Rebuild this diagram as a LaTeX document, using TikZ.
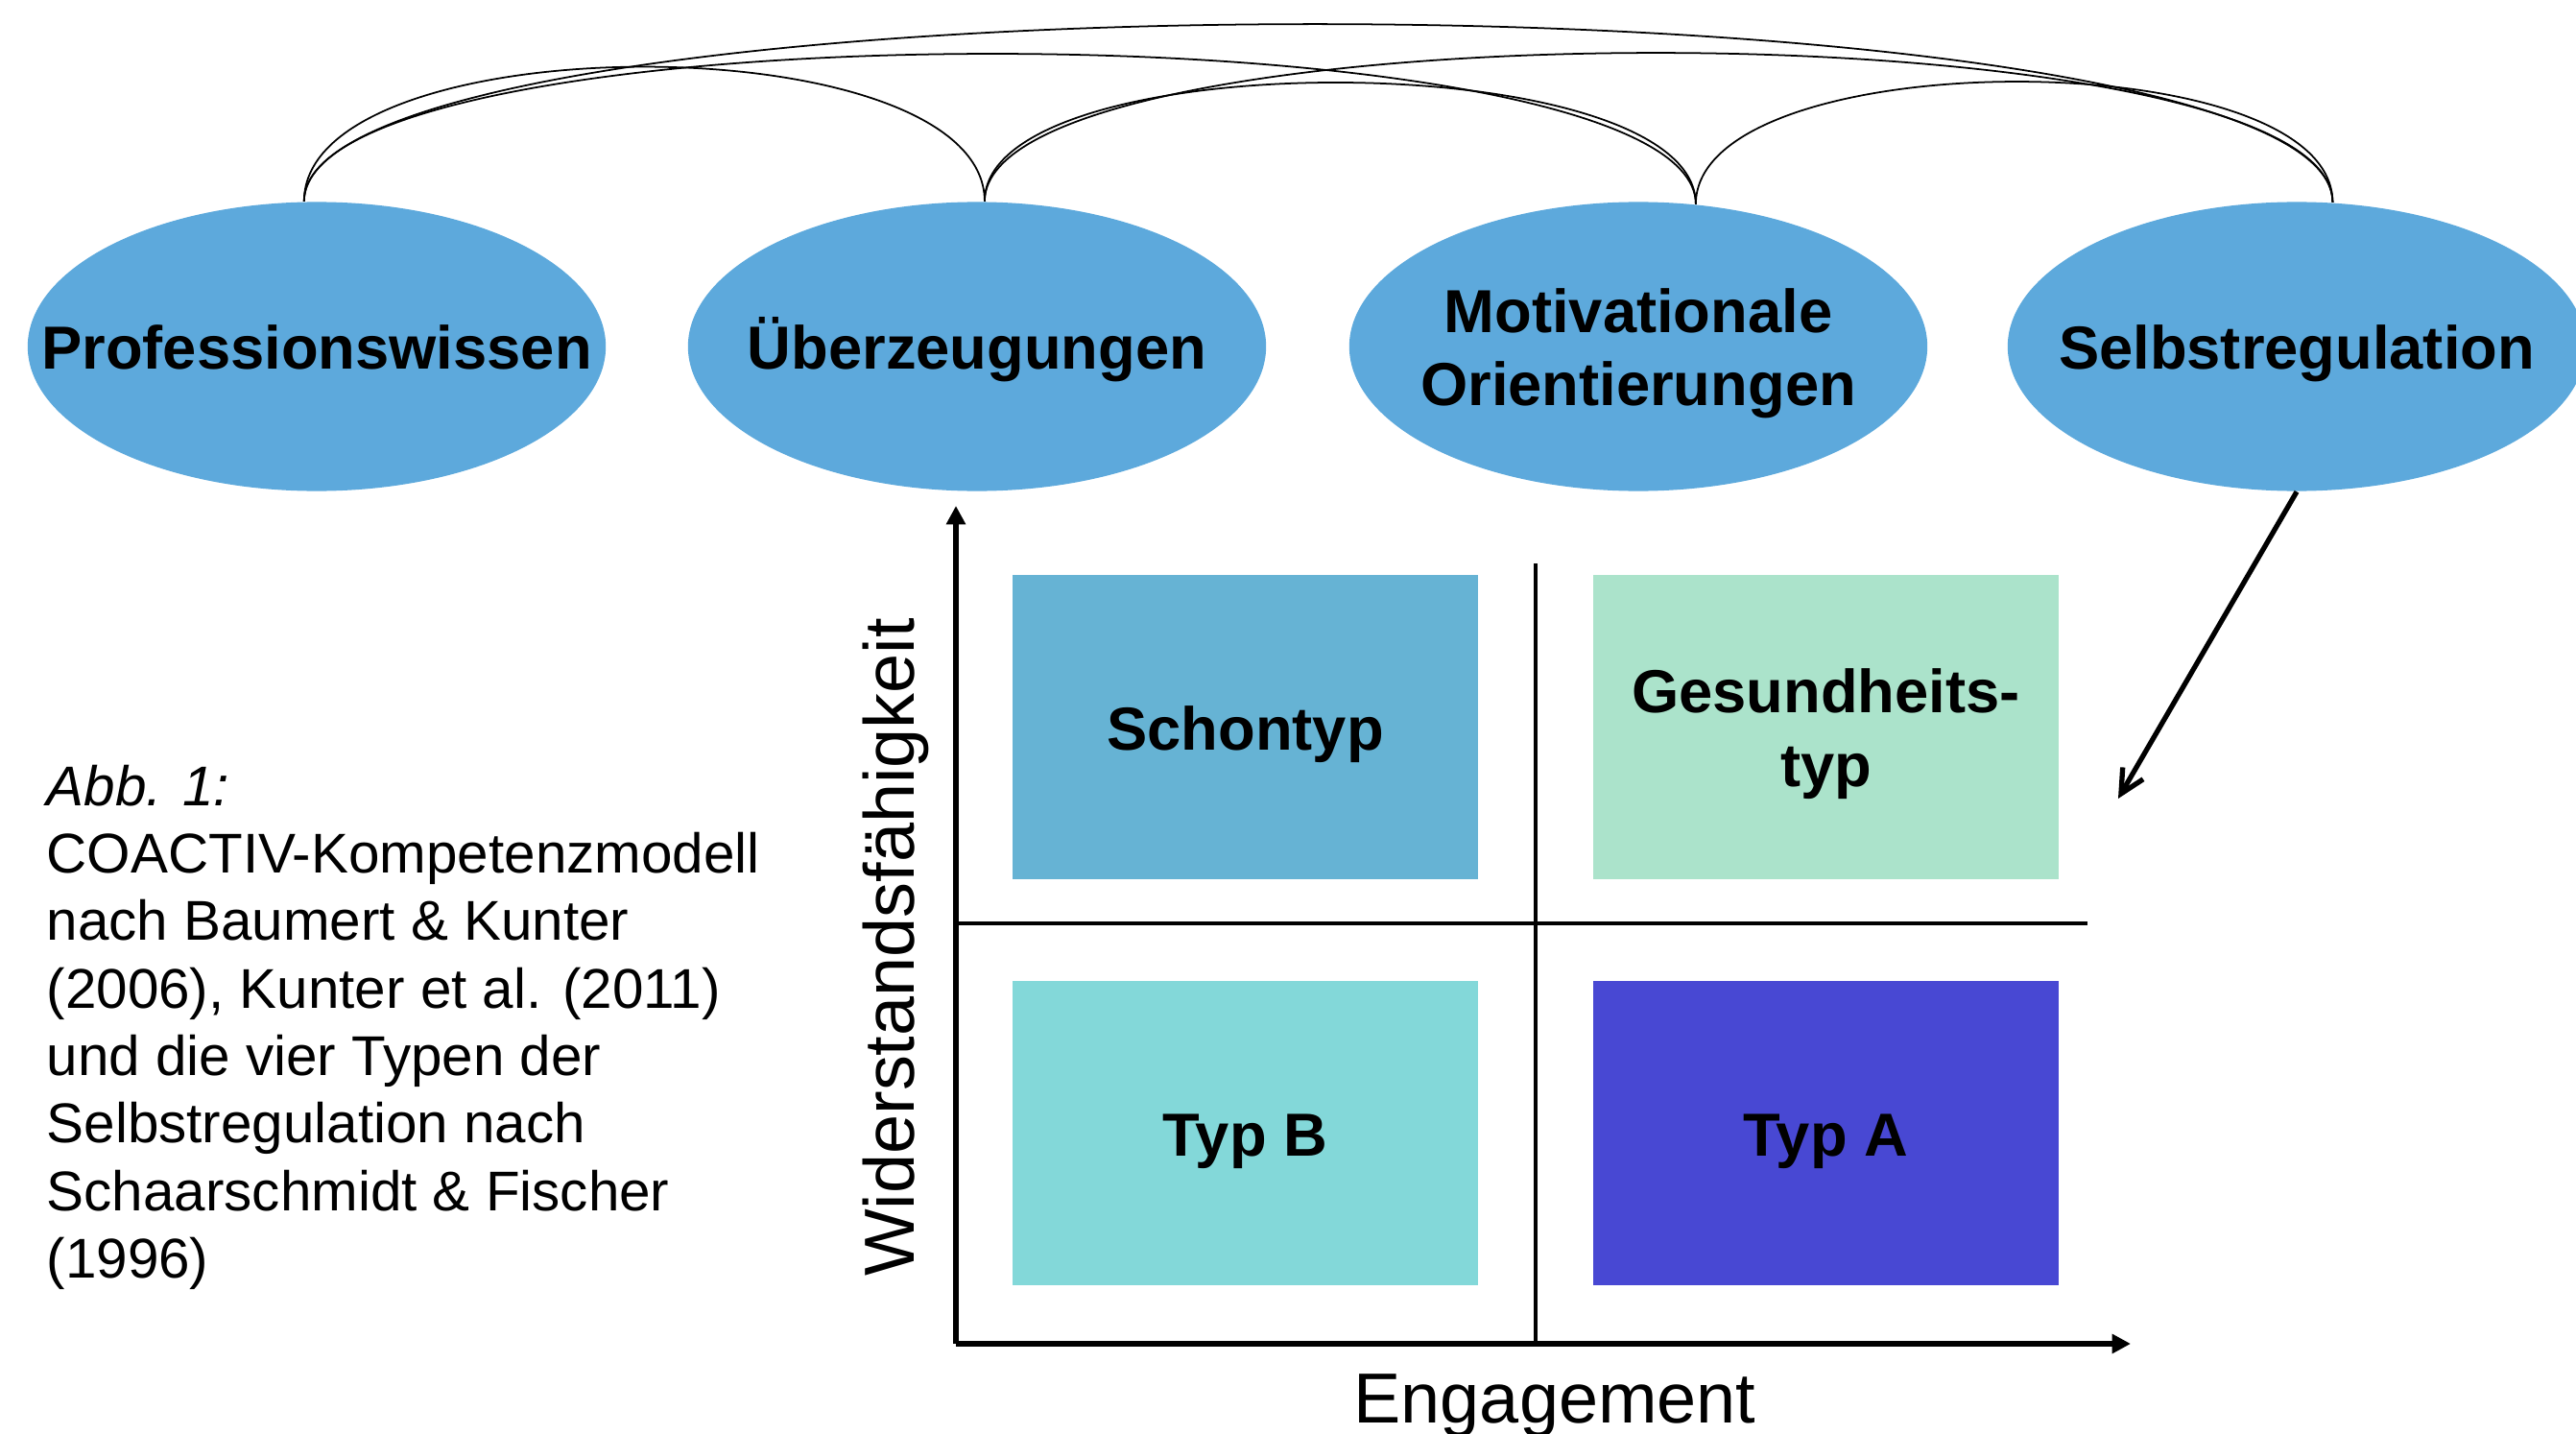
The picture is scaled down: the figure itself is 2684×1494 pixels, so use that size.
\documentclass[tikz,border=0pt]{standalone}
\usepackage{fontspec}
\setmainfont{Liberation Sans}
\usetikzlibrary{shapes.geometric,arrows.meta,positioning}

\definecolor{ovalblue}{HTML}{5DA9DC}
\definecolor{schonblue}{HTML}{66B3D4}
\definecolor{gesundgreen}{HTML}{ABE3CB}
\definecolor{typbcyan}{HTML}{83D8D9}
\definecolor{typaviolet}{HTML}{4848D3}

\begin{document}
\begin{tikzpicture}[
  x=0.01cm, y=-0.01cm,
  oval/.style={ellipse, fill=ovalblue, minimum width=6.02cm, minimum height=3.01cm, inner xsep=-1cm, inner ysep=0pt, text height=13.6pt, text depth=0pt, align=center, font=\fontsize{18}{21.7}\selectfont\bfseries},
  typbox/.style={rectangle, minimum width=4.84cm, minimum height=3.17cm, inner sep=0pt, text height=13.4pt, text depth=0pt, align=center, font=\fontsize{18}{22}\selectfont\bfseries},
  twolines/.style={text height=35.2pt},
  link/.style={line width=0.5pt},
  axis/.style={line width=1.5pt, -{Triangle[length=5.5pt,width=5.5pt]}},
  divider/.style={line width=0.9pt},
  pointer/.style={line width=1.5pt, -{Straight Barb[length=7pt,width=7pt]}},
  axislabel/.style={font=\fontsize{21}{25}\selectfont}
]
\useasboundingbox (0,0) rectangle (2684,1494);

% Top row: areas of competence
\node[oval] (wissen) at (330,361) {Professionswissen};
\node[oval] (ueberz) at (1018,361) {Überzeugungen};
\node[oval, twolines] (motiv) at (1707,361) {Motivationale\\Orientierungen};
\node[oval] (selbst) at (2393,361) {Selbstregulation};

% Arcs between the areas
\draw[link] (wissen.95) .. controls +(0,-187) and +(0,-187) .. (ueberz.87);
\draw[link] (wissen.95) .. controls +(0,-207) and +(0,-207) .. (motiv.68);
\draw[link] (wissen.95) .. controls +(0,-247) and +(0,-247) .. (selbst.76);
\draw[link] (ueberz.87) .. controls +(0,-167) and +(0,-167) .. (motiv.68);
\draw[link] (ueberz.87) .. controls +(0,-207) and +(0,-207) .. (selbst.76);
\draw[link] (motiv.68) .. controls +(0,-169) and +(0,-169) .. (selbst.76);

% Caption
\node[anchor=north west, inner sep=0pt, align=left, font=\fontsize{16.6}{20}\selectfont] (caption) at (48,796)
  {\textit{Abb. 1:}\\COACTIV-Kompetenzmodell\\nach Baumert \& Kunter\\(2006), Kunter et al. (2011)\\und die vier Typen der\\Selbstregulation nach\\Schaarschmidt \& Fischer\\(1996)};

% Four types
\node[typbox, fill=schonblue] (schon) at (1297.5,757.5) {Schontyp};
\node[typbox, twolines, fill=gesundgreen] (gesund) at (1902.5,757.5) {Gesundheits-\\typ};
\node[typbox, fill=typbcyan] (typb) at (1297.5,1180.5) {Typ B};
\node[typbox, fill=typaviolet] (typa) at (1902.5,1180.5) {Typ A};

% Axes and quadrant lines
\coordinate (origin) at (996,1400);
\coordinate (ytip) at (996,527);
\coordinate (xtip) at (2220,1400);
\coordinate (vtop) at (1600,587);
\coordinate (vbot) at (1600,1400);
\coordinate (hleft) at (996,962);
\coordinate (hright) at (2175,962);

\draw[divider] (vtop) -- (vbot);
\draw[divider] (hleft) -- (hright);
\draw[axis] (origin) -- (ytip);
\draw[axis] (origin) -- (xtip);

\node[axislabel, anchor=base] (xlabel) at (1620,1482) {Engagement};
\node[axislabel, rotate=90] (ylabel) at (933,987) {Widerstandsfähigkeit};

% Pointer from Selbstregulation
\coordinate (pointend) at (2207,832);
\draw[pointer] (selbst.south) -- (pointend);

\end{tikzpicture}
\end{document}
